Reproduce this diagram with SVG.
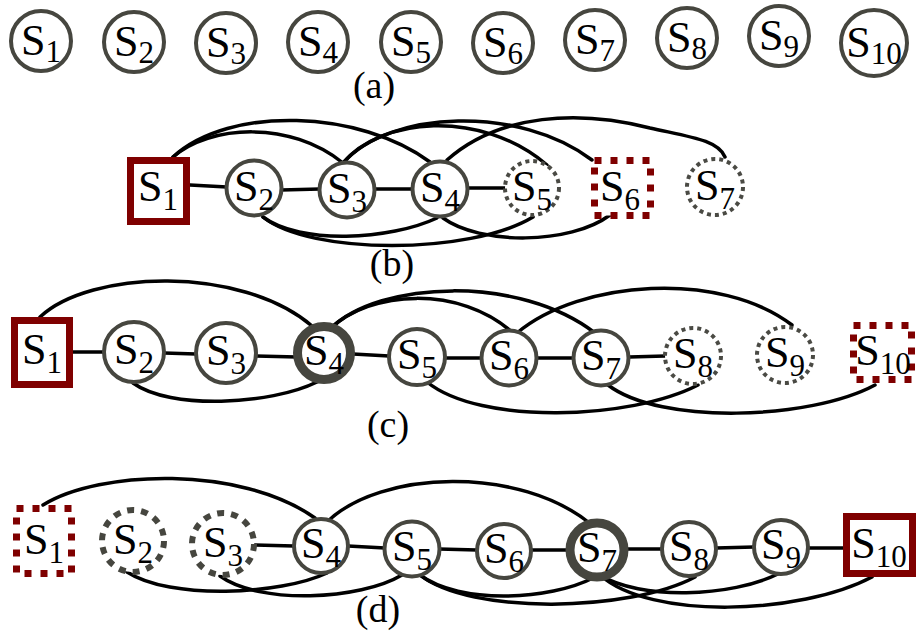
<svg xmlns="http://www.w3.org/2000/svg" width="917" height="633" viewBox="0 0 917 633">
<style>
  .bg{fill:#ffffff}
  .c{fill:#ffffff;stroke:#46463f;stroke-width:4}
  .dot{fill:#ffffff;stroke:#4a4a44;stroke-width:4;stroke-dasharray:4 4}
  .dot2{fill:#ffffff;stroke:#46463f;stroke-width:6;stroke-dasharray:7 7}
  .thick{fill:#ffffff;stroke:#46463f;stroke-width:9}
  .sq{fill:#ffffff;stroke:#7f0000;stroke-width:7}
  .sqd{fill:#ffffff;stroke:#7f0000;stroke-width:7;stroke-dasharray:7 9}
  .e{fill:none;stroke:#000000;stroke-width:3.5;stroke-linecap:round}
  text{font-family:'Liberation Serif','Times New Roman',Times,'DejaVu Serif',serif;fill:#000000;text-anchor:middle}
  .t{font-size:44px}
  .sub{font-size:31px}
  .lbl{font-size:38px}
</style>
<rect class="bg" x="0" y="0" width="917" height="633"/>

<g id="connectors">
  <!-- (b) -->
  <path class="e" d="M190,185 L227,187"/>
  <path class="e" d="M281,190 L320,189"/>
  <path class="e" d="M375,189 L412,189"/>
  <path class="e" d="M468,188 L505,188"/>
  <path class="e" d="M173,157 C210,125 290,120 343,163"/>
  <path class="e" d="M173,157 C230,105 360,110 430,162"/>
  <path class="e" d="M343,163 C380,118 480,108 547,165"/>
  <path class="e" d="M343,163 C390,110 520,105 592,160"/>
  <path class="e" d="M447,160 C500,113 580,110 650,128 C690,137 718,140 725,157"/>
  <path class="e" d="M263,217 C300,245 390,240 437,218"/>
  <path class="e" d="M263,217 C310,255 470,255 533,217"/>
  <path class="e" d="M443,218 C480,245 570,245 610,215"/>
  <!-- (c) -->
  <path class="e" d="M73,352 L104,352"/>
  <path class="e" d="M164,353 L196,354"/>
  <path class="e" d="M256,356 L297,357"/>
  <path class="e" d="M353,354 L389,356"/>
  <path class="e" d="M445,358 L482,358"/>
  <path class="e" d="M536,358 L574,358"/>
  <path class="e" d="M629,357 L665,356"/>
  <path class="e" d="M40,317 C90,270 240,265 312,326"/>
  <path class="e" d="M330,329 C370,290 460,285 513,333"/>
  <path class="e" d="M330,329 C380,280 520,275 595,333"/>
  <path class="e" d="M517,333 C580,280 720,270 792,325"/>
  <path class="e" d="M133,383 C170,410 270,405 317,382"/>
  <path class="e" d="M427,382 C480,425 630,420 698,385"/>
  <path class="e" d="M608,385 C660,425 810,420 875,385"/>
  <!-- (d) -->
  <path class="e" d="M255,545 L294,546"/>
  <path class="e" d="M348,546 L385,548"/>
  <path class="e" d="M439,549 L477,550"/>
  <path class="e" d="M531,550 L570,550"/>
  <path class="e" d="M624,549 L662,549"/>
  <path class="e" d="M716,548 L754,547"/>
  <path class="e" d="M808,548 L846,548"/>
  <path class="e" d="M43,505 C100,470 240,465 315,518"/>
  <path class="e" d="M327,522 C380,470 520,465 592,525"/>
  <path class="e" d="M127,572 C170,600 280,595 327,573"/>
  <path class="e" d="M220,576 C260,605 360,600 402,575"/>
  <path class="e" d="M420,575 C460,605 550,600 593,578"/>
  <path class="e" d="M420,575 C470,615 630,612 695,577"/>
  <path class="e" d="M600,575 C640,600 730,598 780,573"/>
  <path class="e" d="M600,575 C650,620 800,615 872,577"/>
</g>

<!-- row (a) -->
<g id="a-S1"><circle class="c" cx="41" cy="41" r="30"/><text class="t" x="41" y="55">S<tspan class="sub" dy="7">1</tspan></text></g>
<g id="a-S2"><circle class="c" cx="134" cy="42" r="30"/><text class="t" x="134" y="56">S<tspan class="sub" dy="7">2</tspan></text></g>
<g id="a-S3"><circle class="c" cx="226" cy="43" r="30"/><text class="t" x="226" y="57">S<tspan class="sub" dy="7">3</tspan></text></g>
<g id="a-S4"><circle class="c" cx="318" cy="42" r="30"/><text class="t" x="318" y="56">S<tspan class="sub" dy="7">4</tspan></text></g>
<g id="a-S5"><circle class="c" cx="411" cy="42" r="30"/><text class="t" x="411" y="56">S<tspan class="sub" dy="7">5</tspan></text></g>
<g id="a-S6"><circle class="c" cx="503" cy="43" r="30"/><text class="t" x="503" y="57">S<tspan class="sub" dy="7">6</tspan></text></g>
<g id="a-S7"><circle class="c" cx="595" cy="40" r="30"/><text class="t" x="595" y="54">S<tspan class="sub" dy="7">7</tspan></text></g>
<g id="a-S8"><circle class="c" cx="687" cy="38" r="30"/><text class="t" x="687" y="52">S<tspan class="sub" dy="7">8</tspan></text></g>
<g id="a-S9"><circle class="c" cx="779" cy="36" r="30"/><text class="t" x="779" y="50">S<tspan class="sub" dy="7">9</tspan></text></g>
<g id="a-S10"><circle class="c" cx="874" cy="43" r="33"/><text class="t" x="874" y="57">S<tspan class="sub" dy="7">10</tspan></text></g>

<!-- row (b) -->
<g id="b-S1"><rect class="sq" x="130.5" y="160.5" width="56" height="61"/><text class="t" x="158" y="201">S<tspan class="sub" dy="9">1</tspan></text></g>
<g id="b-S2"><circle class="c" cx="254" cy="188" r="27.5"/><text class="t" x="254" y="201">S<tspan class="sub" dy="9">2</tspan></text></g>
<g id="b-S3"><circle class="c" cx="347" cy="190" r="27.5"/><text class="t" x="347" y="203">S<tspan class="sub" dy="9">3</tspan></text></g>
<g id="b-S4"><circle class="c" cx="440" cy="189" r="27.5"/><text class="t" x="440" y="202">S<tspan class="sub" dy="9">4</tspan></text></g>
<g id="b-S5"><circle class="dot" cx="532" cy="188" r="27"/><text class="t" x="532" y="201">S<tspan class="sub" dy="9">5</tspan></text></g>
<g id="b-S6"><rect class="sqd" x="594.5" y="160.5" width="56" height="55"/><text class="t" x="620" y="201">S<tspan class="sub" dy="9">6</tspan></text></g>
<g id="b-S7"><circle class="dot" cx="715" cy="187" r="28"/><text class="t" x="715" y="200">S<tspan class="sub" dy="9">7</tspan></text></g>

<!-- row (c) -->
<g id="c-S1"><rect class="sq" x="14.5" y="320.5" width="55" height="64"/><text class="t" x="42" y="364">S<tspan class="sub" dy="9">1</tspan></text></g>
<g id="c-S2"><circle class="c" cx="134" cy="352" r="30"/><text class="t" x="134" y="364">S<tspan class="sub" dy="9">2</tspan></text></g>
<g id="c-S3"><circle class="c" cx="226" cy="353" r="30"/><text class="t" x="226" y="365">S<tspan class="sub" dy="9">3</tspan></text></g>
<g id="c-S4"><circle class="thick" cx="324" cy="353" r="26.5"/><text class="t" x="324" y="365">S<tspan class="sub" dy="9">4</tspan></text></g>
<g id="c-S5"><circle class="c" cx="417" cy="357" r="28"/><text class="t" x="417" y="369">S<tspan class="sub" dy="9">5</tspan></text></g>
<g id="c-S6"><circle class="c" cx="509" cy="358" r="27.5"/><text class="t" x="509" y="370">S<tspan class="sub" dy="9">6</tspan></text></g>
<g id="c-S7"><circle class="c" cx="601" cy="358" r="27.5"/><text class="t" x="601" y="370">S<tspan class="sub" dy="9">7</tspan></text></g>
<g id="c-S8"><circle class="dot" cx="693" cy="356" r="28"/><text class="t" x="693" y="368">S<tspan class="sub" dy="9">8</tspan></text></g>
<g id="c-S9"><circle class="dot" cx="785" cy="355" r="28"/><text class="t" x="785" y="367">S<tspan class="sub" dy="9">9</tspan></text></g>
<g id="c-S10"><rect class="sqd" x="853.5" y="325.5" width="58" height="54"/><text class="t" x="883" y="365">S<tspan class="sub" dy="9">10</tspan></text></g>

<!-- row (d) -->
<g id="d-S1"><rect class="sqd" x="16.5" y="508.5" width="55" height="65"/><text class="t" x="44" y="554">S<tspan class="sub" dy="9">1</tspan></text></g>
<g id="d-S2"><circle class="dot2" cx="133" cy="541" r="31"/><text class="t" x="133" y="554">S<tspan class="sub" dy="9">2</tspan></text></g>
<g id="d-S3"><circle class="dot2" cx="223" cy="544" r="31"/><text class="t" x="223" y="557">S<tspan class="sub" dy="9">3</tspan></text></g>
<g id="d-S4"><circle class="c" cx="321" cy="546" r="27"/><text class="t" x="321" y="558">S<tspan class="sub" dy="9">4</tspan></text></g>
<g id="d-S5"><circle class="c" cx="412" cy="549" r="27.5"/><text class="t" x="412" y="561">S<tspan class="sub" dy="9">5</tspan></text></g>
<g id="d-S6"><circle class="c" cx="504" cy="551" r="27"/><text class="t" x="504" y="563">S<tspan class="sub" dy="9">6</tspan></text></g>
<g id="d-S7"><circle class="thick" cx="597" cy="550" r="27"/><text class="t" x="597" y="562">S<tspan class="sub" dy="9">7</tspan></text></g>
<g id="d-S8"><circle class="c" cx="689" cy="549" r="27"/><text class="t" x="689" y="561">S<tspan class="sub" dy="9">8</tspan></text></g>
<g id="d-S9"><circle class="c" cx="781" cy="547" r="27"/><text class="t" x="781" y="559">S<tspan class="sub" dy="9">9</tspan></text></g>
<g id="d-S10"><rect class="sq" x="846.5" y="516.5" width="66" height="57"/><text class="t" x="879" y="558">S<tspan class="sub" dy="9">10</tspan></text></g>

<g id="labels">
  <text class="lbl" x="374" y="98">(a)</text>
  <text class="lbl" x="392" y="276">(b)</text>
  <text class="lbl" x="388" y="437">(c)</text>
  <text class="lbl" x="378" y="622">(d)</text>
</g>
</svg>
